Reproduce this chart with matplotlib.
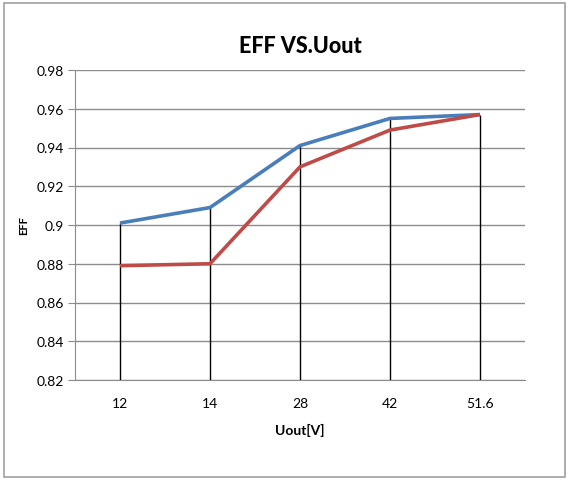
import matplotlib.pyplot as plt
import matplotlib.patches as patches
import numpy as np

plt.rcParams['font.family'] = ['Lato', 'DejaVu Sans']

categories = ['12', '14', '28', '42', '51.6']
eff_blue = [0.901, 0.909, 0.941, 0.955, 0.957]
eff_red = [0.879, 0.880, 0.930, 0.949, 0.957]
yticks = [0.82, 0.84, 0.86, 0.88, 0.9, 0.92, 0.94, 0.96, 0.98]

fig = plt.figure(figsize=(5.69, 4.81), dpi=100)
ax = fig.add_axes([75 / 569, 1 - 381 / 481, 450 / 569, 310 / 481])

# outer frame of the chart
fig.patches.append(patches.Rectangle((4 / 569, 3 / 481), 561 / 569, 474 / 481,
                                     transform=fig.transFigure, fill=False,
                                     edgecolor='#a0a0a0', linewidth=1.2))

x = np.arange(len(categories))
ax.set_xlim(-0.5, len(categories) - 0.5)
ax.set_ylim(0.82, 0.98)
ax.set_yticks(yticks)
ax.set_yticklabels(['0.82', '0.84', '0.86', '0.88', '0.9', '0.92', '0.94', '0.96', '0.98'])
ax.set_xticks(x)
ax.set_xticklabels(categories)
ax.grid(axis='y', color='#8c8c8c', linewidth=1.0)
ax.set_axisbelow(True)

# drop lines
tops = np.maximum(eff_blue, eff_red)
ax.vlines(x, 0.82, tops, color='black', linewidth=1.0, zorder=2)

ax.plot(x, eff_blue, color='#4a7ebb', linewidth=2.6, solid_capstyle='butt', zorder=3)
ax.plot(x, eff_red, color='#be4b48', linewidth=2.6, solid_capstyle='butt', zorder=3)

for s in ['top', 'right']:
    ax.spines[s].set_visible(False)
ax.spines['left'].set_color('#8c8c8c')
ax.spines['bottom'].set_color('#8c8c8c')
ax.tick_params(axis='y', length=5, color='#8c8c8c', labelsize=10, pad=3)
ax.tick_params(axis='x', length=0, labelsize=10, pad=12)

ax.set_title('EFF VS.Uout', fontsize=15.5, fontweight='black', pad=13)
ax.set_xlabel('Uout[V]', fontsize=10, fontweight='bold', labelpad=10)
ax.set_ylabel('EFF', fontsize=8, fontweight='bold', labelpad=5)

fig.savefig('out.png', dpi=100)
